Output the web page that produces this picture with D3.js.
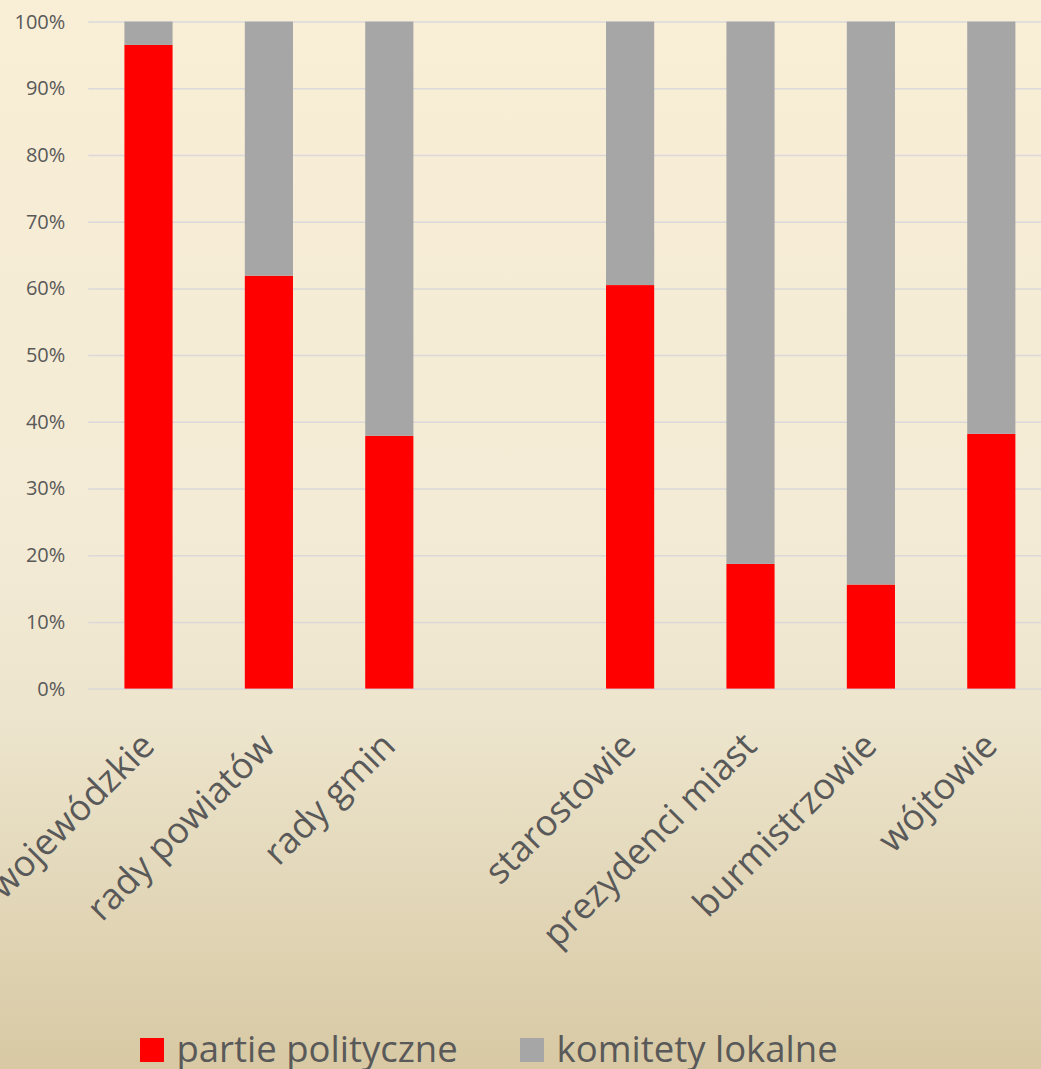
<!DOCTYPE html>
<html>
<head>
<meta charset="utf-8">
<script src="https://cdn.jsdelivr.net/npm/d3@7"></script>
<style>
  html, body { margin: 0; padding: 0; overflow: hidden; }
  svg { display: block; }
</style>
</head>
<body>
<div id="chart"></div>
<script>
// data (percent of seats / posts)
const categories = ['sejmiki wojewódzkie', 'rady powiatów', 'rady gmin', '', 'starostowie', 'prezydenci miast', 'burmistrzowie', 'wójtowie'];
const partie = [96.5, 61.9, 37.9, null, 60.5, 18.7, 15.6, 38.2];
const komitety = [3.5, 38.1, 62.1, null, 39.5, 81.3, 84.4, 61.8];
const seriesNames = ['partie polityczne', 'komitety lokalne'];
const yTicks = [0, 0.1, 0.2, 0.3, 0.4, 0.5, 0.6, 0.7, 0.8, 0.9, 1];

const width = 1041, height = 1069;
const colors = ['#FF0000', '#A6A6A6'];
const textColor = '#595959';
const font = "'Open Sans', sans-serif";

const svg = d3.select('#chart')
  .append('svg')
  .attr('width', width)
  .attr('height', height);

// background gradient
const grad = svg.append('defs').append('linearGradient')
  .attr('id', 'bg')
  .attr('x1', 0).attr('y1', 0).attr('x2', 0).attr('y2', 1);
grad.append('stop').attr('offset', '0%').attr('stop-color', '#F9EED6');
grad.append('stop').attr('offset', '50%').attr('stop-color', '#F3EBD5');
grad.append('stop').attr('offset', '68%').attr('stop-color', '#ECE4CC');
grad.append('stop').attr('offset', '100%').attr('stop-color', '#D8C9A4');

svg.append('rect')
  .attr('width', width)
  .attr('height', height)
  .attr('fill', 'url(#bg)');

// scales
const x = d3.scaleBand()
  .domain(categories)
  .range([88.3, 1051.5])
  .paddingInner(0.6)
  .paddingOuter(0.3);

const y = d3.scaleLinear()
  .domain([0, 1])
  .range([688.6, 21.6]);

// gridlines + y tick labels
const yAxis = svg.append('g')
  .attr('transform', 'translate(88.3,0)')
  .call(d3.axisLeft(y)
    .tickValues(yTicks)
    .tickFormat(d3.format('.0%'))
    .tickSizeInner(-(1051.5 - 88.3))
    .tickSizeOuter(0)
    .tickPadding(23));

yAxis.select('.domain').remove();
yAxis.selectAll('.tick line')
  .attr('stroke', '#DAD8DA')
  .attr('stroke-width', 1.5);
yAxis.selectAll('.tick text')
  .style('font-family', font)
  .style('font-size', '20px')
  .attr('fill', textColor);

// stacked bars
const rows = categories.map((c, i) => ({ cat: c, p: (partie[i] || 0) / 100, k: (komitety[i] || 0) / 100 }));
const stacked = d3.stack().keys(['p', 'k'])(rows);

svg.append('g')
  .selectAll('g')
  .data(stacked)
  .enter()
  .append('g')
  .attr('fill', (d, i) => colors[i])
  .selectAll('rect')
  .data(d => d.filter(s => s.data.cat !== ''))
  .enter()
  .append('rect')
  .attr('x', d => x(d.data.cat))
  .attr('width', x.bandwidth())
  .attr('y', d => y(d[1]))
  .attr('height', d => y(d[0]) - y(d[1]));

// rotated category labels
svg.append('g')
  .selectAll('text')
  .data(categories.filter(c => c !== ''))
  .enter()
  .append('text')
  .attr('transform', d => `translate(${x(d) + x.bandwidth() / 2 + 8},748) rotate(-45)`)
  .attr('text-anchor', 'end')
  .style('font-family', font)
  .style('font-size', '36px')
  .attr('fill', textColor)
  .text(d => d);

// legend
const legendX = [140, 520];
const legend = svg.append('g');
seriesNames.forEach((name, i) => {
  legend.append('rect')
    .attr('x', legendX[i])
    .attr('y', 1038)
    .attr('width', 24)
    .attr('height', 24)
    .attr('fill', colors[i]);
  legend.append('text')
    .attr('x', legendX[i] + 36.5)
    .attr('y', 1062)
    .style('font-family', font)
    .style('font-size', '36.5px')
    .attr('fill', textColor)
    .text(name);
});
</script>
</body>
</html>
